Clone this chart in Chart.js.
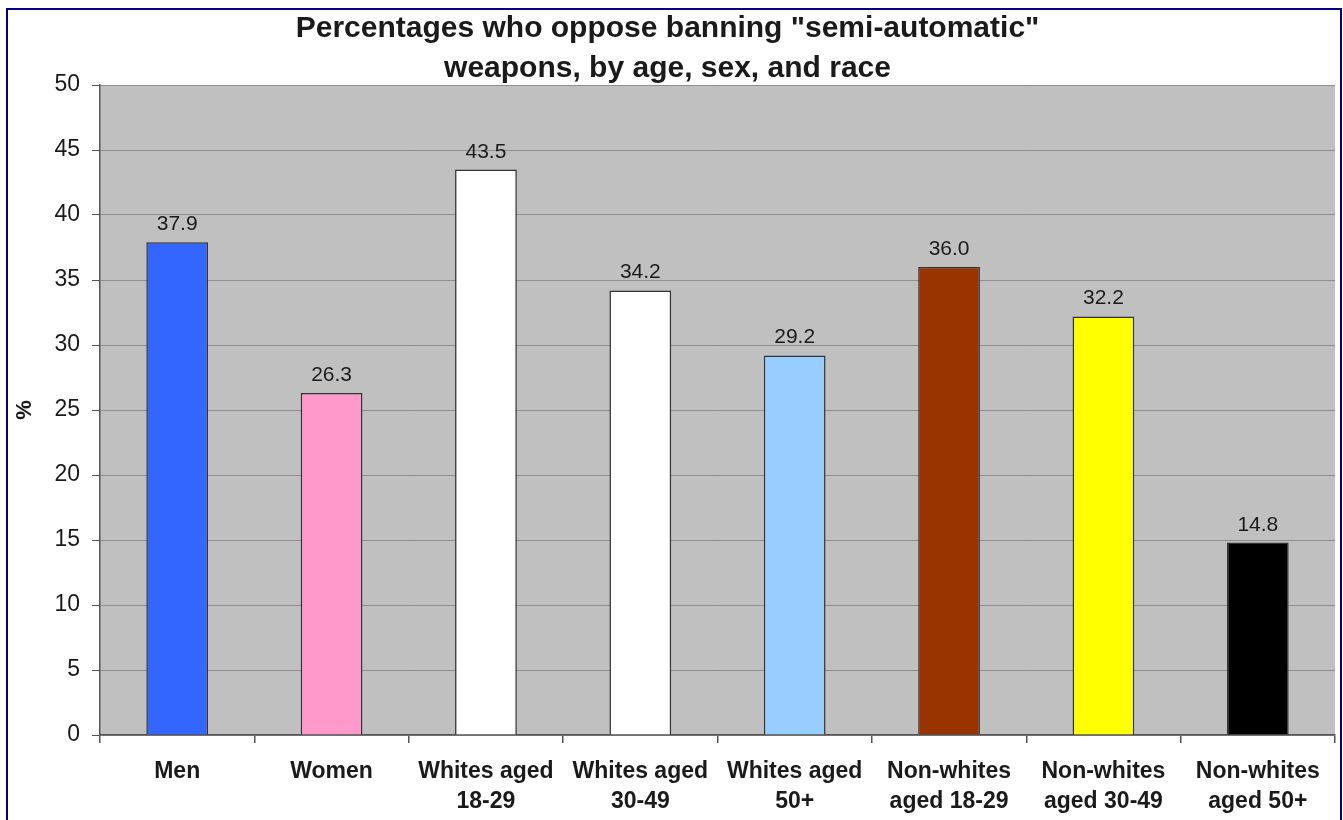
<!DOCTYPE html>
<html>
<head>
<meta charset="utf-8">
<title>Percentages who oppose banning semi-automatic weapons</title>
<script src="https://cdn.jsdelivr.net/npm/chart.js@4.4.1/dist/chart.umd.min.js"></script>
<style>
  html, body { margin: 0; padding: 0; background: #fff; overflow: hidden; }
  #wrap { position: relative; width: 1343px; height: 820px; }
  #frame {
    position: absolute; left: 6px; top: 8px; width: 1332px; height: 830px;
    border: 2px solid #000080; pointer-events: none;
  }
</style>
</head>
<body>
<div id="wrap">
  <canvas id="chart" width="1343" height="820"></canvas>
  <div id="frame"></div>
</div>
<script>
  // chart values
  var categories = [
    "Men",
    "Women",
    ["Whites aged", "18-29"],
    ["Whites aged", "30-49"],
    ["Whites aged", "50+"],
    ["Non-whites", "aged 18-29"],
    ["Non-whites", "aged 30-49"],
    ["Non-whites", "aged 50+"]
  ];
  var percentOpposed = [37.9, 26.3, 43.5, 34.2, 29.2, 36.0, 32.2, 14.8];
  var barColors = ["#3366FF", "#FF99CC", "#FFFFFF", "#FFFFFF", "#99CCFF", "#993300", "#FFFF00", "#000000"];
  var titleLines = ['Percentages who oppose banning "semi-automatic"', "weapons, by age, sex, and race"];
  var yTicks = { min: 0, max: 50, step: 5 };

  var FONT = "'Liberation Sans', Arial, Helvetica, sans-serif";
  var INK = "#1a1a1a";

  // grey plot area
  var plotBg = {
    id: "plotBg",
    beforeDraw: function (chart) {
      var a = chart.chartArea, ctx = chart.ctx;
      ctx.save();
      ctx.fillStyle = "#C0C0C0";
      ctx.fillRect(a.left, a.top, a.right - a.left, a.bottom - a.top);
      ctx.restore();
    }
  };

  // value labels above bars
  var valueLabels = {
    id: "valueLabels",
    afterDatasetsDraw: function (chart) {
      var ctx = chart.ctx;
      var meta = chart.getDatasetMeta(0);
      ctx.save();
      ctx.font = "21px " + FONT;
      ctx.fillStyle = INK;
      ctx.textAlign = "center";
      ctx.textBaseline = "alphabetic";
      meta.data.forEach(function (bar, i) {
        ctx.fillText(percentOpposed[i].toFixed(1), bar.x, bar.y - 12);
      });
      ctx.restore();
    }
  };

  new Chart(document.getElementById("chart"), {
    type: "bar",
    data: {
      labels: categories,
      datasets: [{
        data: percentOpposed,
        backgroundColor: barColors,
        borderColor: "#333333",
        borderWidth: 1.5,
        categoryPercentage: 0.8,
        barPercentage: 0.5
      }]
    },
    options: {
      responsive: false,
      animation: false,
      devicePixelRatio: 1,
      layout: { padding: { left: 0, right: 8, top: 0, bottom: 0 } },
      plugins: {
        legend: { display: false },
        tooltip: { enabled: false },
        title: {
          display: true,
          text: titleLines,
          color: INK,
          font: { family: FONT, size: 30, weight: "bold", lineHeight: "40px" },
          padding: { top: 9, bottom: -4 }
        }
      },
      scales: {
        x: {
          offset: true,
          grid: { display: true, offset: true, drawOnChartArea: false, color: "#555", tickLength: 8, lineWidth: 1.5 },
          border: { color: "#555", width: 1.5 },
          ticks: {
            color: INK,
            padding: 14,
            maxRotation: 0,
            autoSkip: false,
            font: { family: FONT, size: 23, weight: "bold", lineHeight: "30px" }
          },
          afterFit: function (s) { s.height = 85; }
        },
        y: {
          min: yTicks.min,
          max: yTicks.max,
          ticks: {
            stepSize: yTicks.step,
            color: INK,
            padding: 12,
            font: { family: FONT, size: 23 }
          },
          grid: { color: "#8e8e8e", tickColor: "#555", tickLength: 8, lineWidth: 1 },
          border: { color: "#555", width: 1.5 },
          title: {
            display: true,
            text: "%",
            color: INK,
            font: { family: FONT, size: 22, weight: "bold", lineHeight: 1.2 },
            padding: { top: 12, bottom: 0 }
          },
          afterFit: function (s) { s.width = 100; }
        }
      }
    },
    plugins: [plotBg, valueLabels]
  });
</script>
</body>
</html>
